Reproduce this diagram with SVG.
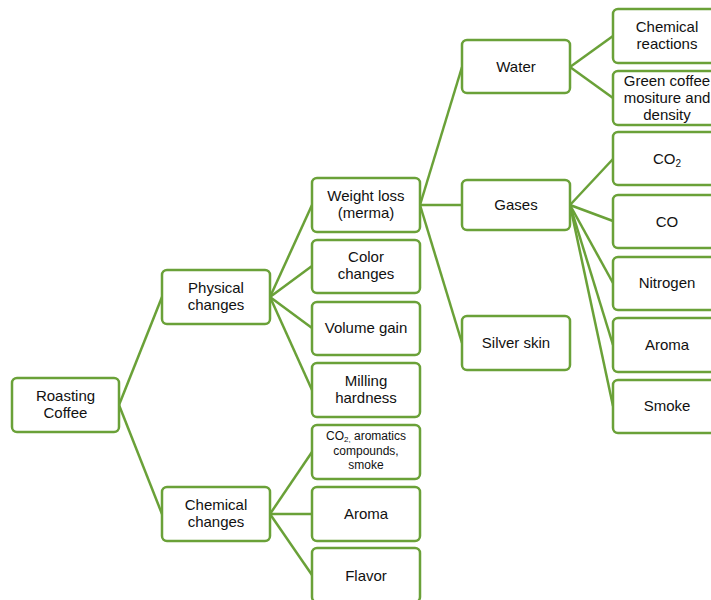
<svg xmlns="http://www.w3.org/2000/svg" width="711" height="600" viewBox="0 0 711 600">
  <style>
    .box { fill: #ffffff; stroke: #6aa138; stroke-width: 2.5; }
    .link { stroke: #6aa138; stroke-width: 2.5; fill: none; }
    text { font-family: "Liberation Sans", Arial, sans-serif; font-size: 15px; fill: #111111; text-anchor: middle; }
    .small { font-size: 12px; }
  </style>
  <rect width="711" height="600" fill="#ffffff"/>

  <!-- connectors -->
  <g id="connectors">
    <line class="link" x1="119" y1="405" x2="162" y2="297"/>
    <line class="link" x1="119" y1="405" x2="162" y2="514"/>
    <line class="link" x1="270" y1="297" x2="312" y2="205"/>
    <line class="link" x1="270" y1="297" x2="312" y2="266"/>
    <line class="link" x1="270" y1="297" x2="312" y2="328"/>
    <line class="link" x1="270" y1="297" x2="312" y2="390"/>
    <line class="link" x1="270" y1="514" x2="312" y2="452"/>
    <line class="link" x1="270" y1="514" x2="312" y2="514"/>
    <line class="link" x1="270" y1="514" x2="312" y2="575"/>
    <line class="link" x1="420" y1="205" x2="462" y2="67"/>
    <line class="link" x1="420" y1="205" x2="462" y2="205"/>
    <line class="link" x1="420" y1="205" x2="462" y2="343"/>
    <line class="link" x1="570" y1="67" x2="613" y2="36"/>
    <line class="link" x1="570" y1="67" x2="613" y2="98"/>
    <line class="link" x1="570" y1="205" x2="613" y2="159"/>
    <line class="link" x1="570" y1="205" x2="613" y2="221"/>
    <line class="link" x1="570" y1="205" x2="613" y2="283"/>
    <line class="link" x1="570" y1="205" x2="613" y2="345"/>
    <line class="link" x1="570" y1="205" x2="613" y2="406"/>
  </g>

  <!-- level 1 -->
  <g id="roasting-coffee">
    <rect class="box" x="12" y="378" width="107" height="54" rx="5"/>
    <text x="65.5" y="401">Roasting</text>
    <text x="65.5" y="418">Coffee</text>
  </g>

  <!-- level 2 -->
  <g id="physical-changes">
    <rect class="box" x="162" y="270" width="108" height="54" rx="5"/>
    <text x="216" y="293">Physical</text>
    <text x="216" y="310">changes</text>
  </g>
  <g id="chemical-changes">
    <rect class="box" x="162" y="487" width="108" height="54" rx="5"/>
    <text x="216" y="510">Chemical</text>
    <text x="216" y="527">changes</text>
  </g>

  <!-- level 3 -->
  <g id="weight-loss">
    <rect class="box" x="312" y="178" width="108" height="54" rx="5"/>
    <text x="366" y="201">Weight loss</text>
    <text x="366" y="218">(merma)</text>
  </g>
  <g id="color-changes">
    <rect class="box" x="312" y="240" width="108" height="53" rx="5"/>
    <text x="366" y="262">Color</text>
    <text x="366" y="279">changes</text>
  </g>
  <g id="volume-gain">
    <rect class="box" x="312" y="302" width="108" height="53" rx="5"/>
    <text x="366" y="333">Volume gain</text>
  </g>
  <g id="milling-hardness">
    <rect class="box" x="312" y="363" width="108" height="54" rx="5"/>
    <text x="366" y="386">Milling</text>
    <text x="366" y="403">hardness</text>
  </g>
  <g id="co2-aromatics">
    <rect class="box" x="312" y="425" width="108" height="54" rx="5"/>
    <text class="small" x="366" y="440">CO<tspan font-size="8" dy="2">2,</tspan><tspan dy="-2"> aromatics</tspan></text>
    <text class="small" x="366" y="455">compounds,</text>
    <text class="small" x="366" y="469">smoke</text>
  </g>
  <g id="aroma-chem">
    <rect class="box" x="312" y="487" width="108" height="54" rx="5"/>
    <text x="366" y="519">Aroma</text>
  </g>
  <g id="flavor">
    <rect class="box" x="312" y="548" width="108" height="54" rx="5"/>
    <text x="366" y="581">Flavor</text>
  </g>

  <!-- level 4 -->
  <g id="water">
    <rect class="box" x="462" y="40" width="108" height="53" rx="5"/>
    <text x="516" y="72">Water</text>
  </g>
  <g id="gases">
    <rect class="box" x="462" y="180" width="108" height="50" rx="5"/>
    <text x="516" y="210">Gases</text>
  </g>
  <g id="silver-skin">
    <rect class="box" x="462" y="316" width="108" height="54" rx="5"/>
    <text x="516" y="348">Silver skin</text>
  </g>

  <!-- level 5 -->
  <g id="chemical-reactions">
    <rect class="box" x="613" y="9" width="108" height="54" rx="5"/>
    <text x="667" y="32">Chemical</text>
    <text x="667" y="49">reactions</text>
  </g>
  <g id="green-coffee">
    <rect class="box" x="613" y="71" width="108" height="54" rx="5"/>
    <text x="667" y="86">Green coffee</text>
    <text x="667" y="103">mositure and</text>
    <text x="667" y="120">density</text>
  </g>
  <g id="co2">
    <rect class="box" x="613" y="132" width="108" height="53" rx="5"/>
    <text x="667" y="164">CO<tspan font-size="10" dy="3">2</tspan></text>
  </g>
  <g id="co">
    <rect class="box" x="613" y="195" width="108" height="53" rx="5"/>
    <text x="667" y="227">CO</text>
  </g>
  <g id="nitrogen">
    <rect class="box" x="613" y="257" width="108" height="53" rx="5"/>
    <text x="667" y="288">Nitrogen</text>
  </g>
  <g id="aroma-gas">
    <rect class="box" x="613" y="318" width="108" height="54" rx="5"/>
    <text x="667" y="350">Aroma</text>
  </g>
  <g id="smoke">
    <rect class="box" x="613" y="380" width="108" height="53" rx="5"/>
    <text x="667" y="411">Smoke</text>
  </g>
</svg>
